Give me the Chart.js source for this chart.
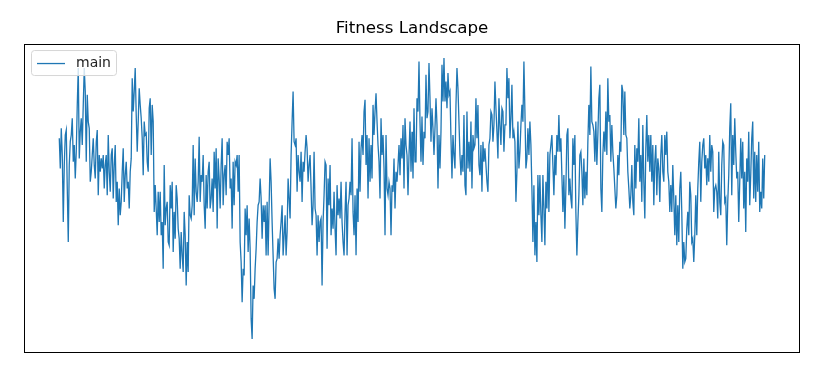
<!DOCTYPE html>
<html>
<head>
<meta charset="utf-8">
<script src="https://cdn.jsdelivr.net/npm/chart.js@4"></script>
<style>
  body { margin: 0; background: #fff; }
</style>
</head>
<body>
<canvas id="chart" width="815" height="367"></canvas>
<script>
const chartTitle = 'Fitness Landscape';
const seriesLabel = 'main';

// fitness values, left to right
const fitnessPart1 = [
  638,548,668,588,388,558,648,663,488,328,558,628,648,698,568,618,518,598,738,848,
  578,658,698,618,738,848,778,568,768,688,668,508,538,588,638,558,518,628,663,468,
  588,538,578,548,588,488,558,588,468,648,538,478,588,608,458,558,618,448,508,378,
  488,408,448,538,608,448,528,568,488,508,428,538,578,818,718,778,848,708,598,688,
  788,738,698,638,528,688,648
];
const fitnessPart2 = [
  653,568,538,728,758,588,738,688,418,498,428,348,478,388,478,348,388,248,558,378,
  428,448,328,318,498,428,508,298,418,338,498,458,368,338,248,358,288,238,418,348,
  198,328,238,468,408,398,438,618,408,578,478,448,508,643,448,528,508,588,438,368,
  528,428,538,568,428,458,518,418,598,488,608,368,578,518,428,558,638,438,528,558,
  468,628,588,638,488,518,368,568,438,568
];
const fitnessPart3 = [
  558,588,478,588,328,268,148,248,228,428,348,438,298,398,308,98,38,198,158,248,
  308,388,438,448,518,458,338,438,388,438,288,448,288,438,578,508,388,288,188,158,
  268,278,338,278,348,388,438,288,348,408,288,358,518,458,398,588,688,778,628,618,
  638,478,588,538,508,598,448,568,538,598,648,608,508,558,588,488,378,438,598,428,
  408,288,408,328,388,398,198,388,468,568
];
const fitnessPart4 = [
  558,308,518,438,558,348,428,368,478,368,288,498,408,458,398,508,388,328,288,418,
  508,288,438,458,508,468,638,418,348,468,288,488,388,628,478,608,648,588,718,753,
  558,648,458,638,508,618,518,738,648,718,773,688,618,568,458,698,588,648,548,348,
  648,488,468,508,488,348,498,478,578,428,538,508,558,618,528,638,578,678,488,698,
  618,588,468,588,688,538,658,518,728,568
];
const fitnessPart5 = [
  568,758,718,868,688,568,703,558,658,638,828,698,718,863,758,628,728,668,588,668,
  758,678,488,648,548,658,858,748,878,748,808,728,833,768,778,638,518,648,588,548,
  738,848,788,688,588,528,588,538,708,498,468,718,548,628,538,688,488,648,608,618,
  758,638,738,558,528,618,478,628,568,608,558,508,478,618,638,718,708,628,678,808,
  728,658,578,758,678,618,728,718,598,678
];
const fitnessPart6 = [
  678,848,758,818,638,698,798,638,658,628,448,538,688,548,598,678,738,688,868,718,
  548,578,668,588,688,618,488,328,498,288,388,268,528,408,528,408,328,528,428,318,
  508,428,598,418,588,618,648,558,468,588,528,648,598,708,598,638,528,418,528,368,
  488,648,668,468,518,458,428,638,558,648,418,288,388,468,588,598,538,438,578,458,
  538,468,628,738,648,853,688,678,658,568
];
const fitnessPart7 = [
  688,558,648,758,798,488,418,588,658,598,718,588,818,688,708,568,678,598,548,488,
  428,468,588,528,628,598,798,778,648,778,648,638,538,488,428,468,558,448,408,618,
  488,608,568,698,508,588,448,678,508,398,608,708,568,648,538,648,508,618,438,568,
  618,468,578,548,448,588,648,538,508,648,588,658,538,508,418,498,418,558,458,348,
  468,318,438,328,488,538,418,248,328,268
];
const fitnessPart8 = [
  278,368,418,348,508,468,328,338,268,348,468,348,488,568,628,448,568,618,638,548,
  588,498,578,508,648,538,618,598,418,488,498,478,398,598,448,408,558,628,618,448,
  458,318,448,528,668,743,468,648,558,698,598,518,538,388,508,638,518,628,428,538,
  358,578,508,658,438,528,638,688,458,598,448,588,478,628,418,478,428,578,458,588
];

const fitness = [].concat(fitnessPart1, fitnessPart2, fitnessPart3, fitnessPart4,
  fitnessPart5, fitnessPart6, fitnessPart7, fitnessPart8);

const lineColor = '#1f77b4';

// matplotlib style 5% margins
const n = fitness.length;
const lo = Math.min(...fitness);
const hi = Math.max(...fitness);
const xPad = (n - 1) * 0.05;
const yPad = (hi - lo) * 0.05;

const framePlugin = {
  id: 'frame',
  afterDraw(chart) {
    const { ctx, chartArea: a } = chart;
    ctx.save();
    ctx.strokeStyle = '#000';
    ctx.lineWidth = 1;
    ctx.strokeRect(Math.round(a.left) + 0.5, Math.round(a.top) + 0.5,
      Math.round(a.right - a.left) - 1, Math.round(a.bottom - a.top) - 1);
    ctx.restore();
  }
};

const legendPlugin = {
  id: 'boxLegend',
  afterDraw(chart) {
    const { ctx, chartArea: a } = chart;
    const x = a.left + 7, y = a.top + 6, w = 85, h = 25;
    ctx.save();
    ctx.beginPath();
    ctx.roundRect(x + 0.5, y + 0.5, w, h, 3);
    ctx.fillStyle = 'rgba(255,255,255,0.8)';
    ctx.fill();
    ctx.strokeStyle = '#d6d6d6';
    ctx.lineWidth = 1;
    ctx.stroke();
    ctx.beginPath();
    ctx.moveTo(x + 6, y + 13.5);
    ctx.lineTo(x + 34, y + 13.5);
    ctx.strokeStyle = lineColor;
    ctx.lineWidth = 1.3;
    ctx.stroke();
    ctx.fillStyle = '#222';
    ctx.font = '14px "DejaVu Sans"';
    ctx.textBaseline = 'middle';
    ctx.fillText(chart.data.datasets[0].label, x + 45, y + 13);
    ctx.restore();
  }
};

new Chart(document.getElementById('chart'), {
  type: 'line',
  data: {
    datasets: [{
      label: seriesLabel,
      data: fitness.map((v, i) => ({ x: i, y: v })),
      borderColor: lineColor,
      borderWidth: 1.3,
      pointRadius: 0,
      tension: 0,
      fill: false
    }]
  },
  options: {
    responsive: false,
    animation: false,
    layout: { padding: { left: 24, right: 15, top: 0, bottom: 14 } },
    plugins: {
      legend: { display: false },
      tooltip: { enabled: false },
      title: {
        display: true,
        text: chartTitle,
        color: '#000',
        font: { family: 'DejaVu Sans', size: 16.7, weight: 'normal' },
        padding: { top: 19, bottom: 5 }
      }
    },
    scales: {
      x: { type: 'linear', display: false, min: -xPad, max: n - 1 + xPad },
      y: { display: false, min: lo - yPad, max: hi + yPad }
    }
  },
  plugins: [framePlugin, legendPlugin]
});
</script>
</body>
</html>
